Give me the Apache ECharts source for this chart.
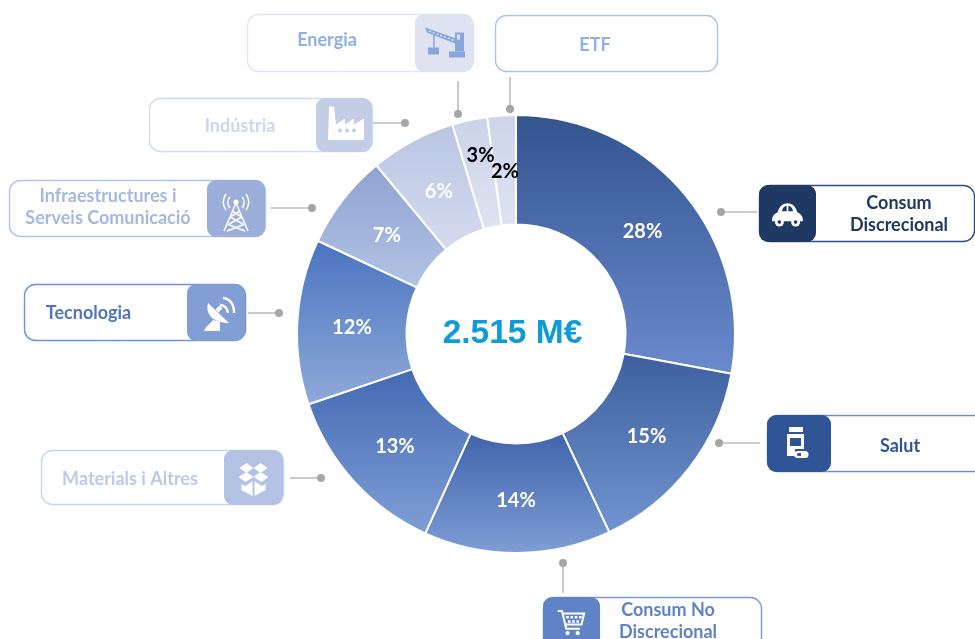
<!DOCTYPE html>
<html><head><meta charset="utf-8">
<style>html,body{margin:0;padding:0;background:#fff}#c{width:975px;height:639px}</style>
<script src="https://cdn.jsdelivr.net/npm/echarts@6/dist/echarts.min.js"></script>
</head><body><div id="c"></div>
<script>
// Data
const sectors = ['Consum Discrecional','Salut','Consum No Discrecional','Materials i Altres','Tecnologia','Infraestructures i Serveis Comunicació','Indústria','Energia','ETF'];
const shares = [27.9,15.1,13.8,13.0,12.2,7.0,6.3,2.6,2.1];
const totalLabel = '2.515 M€';

// Styling, kept apart from the data
const gradients = [['#33548f','#6a8ace'],['#3d5f9d','#7195d0'],['#4063ab','#7f9ed6'],['#4469b3','#7f9fd6'],['#4a74c0','#8faad9'],['#8fa3d3','#b3c3e3'],['#b9c5e2','#d5dbef'],['#cbd3e9','#dfe3f2'],['#cdd4ea','#dfe3f2']];
const labelColors = ['#fff','#fff','#fff','#fff','#fff','#fff','#fff','#000','#000'];
const labelOffsets = [[-2,5],[-2,0],[-1,-1],[3,0],[3,3],[3,4],[2,5],[0,-15],[0,4]];
const FONT = 'Lato, "Open Sans", sans-serif';

// Callout layout: box, icon tile, caption centre, connector
const callouts = [
 {i:0,x:759,y:185,w:215,h:56,ix:759,iw:57,tx:899,ty:214,lines:['Consum','Discrecional'],border:'#2f4d85',fill:'#1f3864',text:'#1f3864',icon:'car',conn:[757,212,721,212],iconScale:.9,iconDy:1},
 {i:1,x:767,y:415,w:230,h:56,ix:767,iw:64,tx:900,ty:446,lines:['Salut'],border:'#6f8fc6',fill:'#2f5597',text:'#2f5597',icon:'pill',conn:[760,443,719,443]},
 {i:2,x:543,y:597,w:218,h:70,ix:543,iw:57,tx:668,ty:621,lines:['Consum No','Discrecional'],border:'#7b9cd6',fill:'#5f83c6',text:'#5f83c6',icon:'cart',conn:[563,593,563,563],iconY:622,iconScale:.85,iconDx:-1},
 {i:3,x:41,y:450,w:242,h:54,ix:224,iw:59,tx:130,ty:479,lines:['Materials i Altres'],border:'#c7d5f0',fill:'#b4c3e5',text:'#bccaea',icon:'box',conn:[290,478,321,478],iconDy:3},
 {i:4,x:24,y:284,w:221,h:56,ix:187,iw:58,tx:88.5,ty:313,lines:['Tecnologia'],border:'#6f93d0',fill:'#829fd5',text:'#4f76bd',icon:'dish',conn:[248,313,279,313]},
 {i:5,x:9,y:180,w:256,h:56,ix:207,iw:58,tx:108,ty:207,lines:['Infraestructures i','Serveis Comunicació'],border:'#b3c4e8',fill:'#9cafdb',text:'#a6b8e2',icon:'tower',conn:[270,208,312,208],iconDy:4},
 {i:6,x:149,y:98,w:223,h:53,ix:316,iw:56,tx:240,ty:126,lines:['Indústria'],border:'#d3dbf0',fill:'#c3cde6',text:'#cdd6ee',icon:'factory',conn:[372,123,405,123]},
 {i:7,x:247,y:14,w:226,h:57,ix:415,iw:58,tx:327,ty:40,lines:['Energia'],border:'#e0e6f5',fill:'#dfe3f1',text:'#8fb0e0',icon:'crane',conn:[458,81,458,114]},
 {i:8,x:495,y:15,w:222,h:56,lines:['ETF'],tx:595,ty:45,border:'#a9c6e8',text:'#8fb0e0',conn:[510,77,510,109]}
];

// Icon primitives around the tile centre: f = fill with foreground, b = fill with tile colour, s = stroke
const iconParts = {
 car:[
  ['f','M-17 8 C-18 2 -13 -1 -11 -2 C-9 -8 -6 -12 0 -12 C6 -12 9 -8 11 -2 C13 -1 18 2 17 8 Z'],
  ['b','M-6 -3 C-6 -6 -4 -9 -1 -9 L-1 -3 Z'],['b','M1 -3 L1 -9 C4 -9 6 -6 6 -3 Z'],
  ['f','M-14 9 a5 5 0 1 0 10 0 a5 5 0 1 0 -10 0 Z'],['f','M4 9 a5 5 0 1 0 10 0 a5 5 0 1 0 -10 0 Z'],
  ['b','M-11 9 a2 2 0 1 0 4 0 a2 2 0 1 0 -4 0 Z'],['b','M7 9 a2 2 0 1 0 4 0 a2 2 0 1 0 -4 0 Z']],
 pill:[
  ['f','M-10 -16 H4 V-11 H-10 Z'],['f','M-12 -9 H5 V6 H-4 V13 H-12 Z'],
  ['b','M-9 -5 H2 V3 H-9 Z'],
  ['f','M-5 11.5 a4 3.5 0 0 1 4 -3.5 H6 a3.5 3.5 0 0 1 0 7 H-1 a4 3.5 0 0 1 -4 -3.5 Z'],
  ['b','M-2 11.5 a1.5 1.5 0 0 1 1.5 -1.5 H2 V13 H-0.5 a1.5 1.5 0 0 1 -1.5 -1.5 Z']],
 cart:[
  ['s','M-15 -13 H-10 L-5 8 H11'],['s','M-10 -10 H16 L13 3 H-7'],
  ['f','M-5 -7 h3 v3 h-3 Z M0 -7 h3 v3 h-3 Z M5 -7 h3 v3 h-3 Z M10 -7 h3 v3 h-3 Z M-3 -2 h3 v3 h-3 Z M2 -2 h3 v3 h-3 Z M7 -2 h3 v3 h-3 Z'],
  ['f','M-6 13 a2.5 2.5 0 1 0 5 0 a2.5 2.5 0 1 0 -5 0 Z M6 13 a2.5 2.5 0 1 0 5 0 a2.5 2.5 0 1 0 -5 0 Z']],
 box:[
  ['f','M-14 -12 L-7 -17 L0 -12 L-7 -7 Z M14 -12 L7 -17 L0 -12 L7 -7 Z'],
  ['f','M-15 -3 L-7 -8 L0 -3 L-8 2 Z M15 -3 L7 -8 L0 -3 L8 2 Z'],
  ['f','M-12 4 L-8 6 L-1 1 V16 L-12 10 Z M12 4 L8 6 L1 1 V16 L12 10 Z']],
 dish:[
  ['f','M-8 -9 C-11 2 -3 11 13 11 Z'],
  ['f','M-12 19 C-10 14 -6 12 -3 8 L4 10 L4 19 Z'],
  ['s2','M1 -1 L5 -5'],
  ['s','M4 -7 A8 8 0 0 1 12 1'],['s','M7 -14 A11 14 0 0 1 18 1']],
 tower:[
  ['s1','M0 -9 L-12 19 M0 -9 L12 19 M-6 5 L7 12 M6 5 L-7 12 M-4 -1 L6 5 M4 -1 L-6 5 M-9 12 L9 19 M9 12 L-9 19'],
  ['f','M-2.5 -10 a2.5 2.5 0 1 0 5 0 a2.5 2.5 0 1 0 -5 0 Z'],
  ['s1','M-6 -15 A8 8 0 0 0 -6 -4 M6 -15 A8 8 0 0 1 6 -4 M-10 -18 A13 13 0 0 0 -10 -2 M10 -18 A13 13 0 0 1 10 -2']],
 factory:[
  ['f','M-16 15.5 L-15 -18 H-10 L-8 0 L1 -6 V0 L10 -6 V0 L20 -6 V15.5 Z'],
  ['b','M-6 6 a2 2 0 1 0 4 0 a2 2 0 1 0 -4 0 Z M1 6 a2 2 0 1 0 4 0 a2 2 0 1 0 -4 0 Z M8 6 a2 2 0 1 0 4 0 a2 2 0 1 0 -4 0 Z']],
 crane:[
  ['c','M-19 -15 L-17 -10 L11 1 L12 -4 Z'],
  ['bl','M-15 -11.5 L10 -2'],
  ['c','M11 -10 H20 V9 H11 Z'],['b','M13 -8 H16 V-3 H13 Z'],['c','M5 9 H21 V15 H5 Z'],
  ['c','M-16 5 H-5 V12 H-16 Z'],
  ['cs','M-10 -8 V5']]
};

// Register each icon part as a custom shape so the graphic component can draw it
Object.keys(iconParts).forEach(name => iconParts[name].forEach(([k, d], n) => {
  echarts.graphic.registerShape('ico_'+name+'_'+n, echarts.graphic.extendPath(d, {}));
}));

function iconEls(name, cx, cy, tile, scale) {
  const fg = name === 'crane' ? '#88a6dc' : '#fff';
  return iconParts[name].map(([k], n) => {
    const stroke = k === 's' || k === 's1' || k === 's2' || k === 'cs' || k === 'bl';
    return {
      type:'ico_'+name+'_'+n, x:cx, y:cy, scaleX:scale, scaleY:scale, z:6,
      style: stroke
        ? {fill:null, stroke:k==='bl'?tile:fg, lineDash:k==='bl'?[2,2]:null, lineWidth:k==='s1'||k==='cs'||k==='bl'?1.5:(k==='s2'?4:2.4)}
        : {fill:k==='b'?tile:fg}
    };
  });
}

const graphics = [];
callouts.forEach(c => {
  graphics.push({type:'rect', z:4, shape:{x:c.x+.5,y:c.y+.5,width:c.w,height:c.h,r:11}, style:{fill:'#fff',stroke:c.border,lineWidth:1.4}});
  if (c.icon) {
    graphics.push({type:'rect', z:5, shape:{x:c.ix,y:c.y,width:c.iw,height:c.h+(c.icon==='cart'?0:1),r:9}, style:{fill:c.fill}});
    iconEls(c.icon, c.ix+c.iw/2+(c.iconDx||0), (c.iconY||(c.y+c.h/2))+(c.iconDy||0), c.fill, c.iconScale||1).forEach(e => graphics.push(e));
  }
  graphics.push({type:'text', z:6, x:c.tx, y:c.ty, style:{text:c.lines.join('\n'), fill:c.text, font:'bold 18px '+FONT, lineHeight:22.5, align:'center', verticalAlign:'middle'}});
  const [a,b,d,e] = c.conn;
  graphics.push({type:'line', z:3, shape:{x1:a,y1:b,x2:d,y2:e}, style:{stroke:'#bdbdbd',lineWidth:1.6}});
  graphics.push({type:'circle', z:3, shape:{cx:d,cy:e,r:4}, style:{fill:'#a6a6a6'}});
});
graphics.push({type:'text', z:6, x:512.5, y:334, style:{text:totalLabel, fill:'#0f9bd8', font:'bold 33.5px "Liberation Sans", Arial, sans-serif', align:'center', verticalAlign:'middle'}});

const chart = echarts.init(document.getElementById('c'), null, {renderer:'canvas'});
chart.setOption({
  animation:false,
  backgroundColor:'#fff',
  graphic:{elements:graphics},
  series:[{
    type:'pie', center:[516,334], radius:[109.5,219], startAngle:90, clockwise:true, silent:true, avoidLabelOverlap:false,
    labelLayout:{hideOverlap:false},
    label:{show:true, position:'inside'}, labelLine:{show:false},
    data:sectors.map((name,i)=>({
      name, value:shares[i],
      itemStyle:{borderColor:'#fff',borderWidth:2,color:{type:'linear',x:0,y:0,x2:0,y2:1,colorStops:[{offset:0,color:gradients[i][0]},{offset:1,color:gradients[i][1]}]}},
      label:{formatter:Math.round(shares[i])+'%', color:labelColors[i], fontSize:20, fontWeight:'bold', fontFamily:FONT, offset:labelOffsets[i]}
    }))
  }]
});
</script></body></html>
